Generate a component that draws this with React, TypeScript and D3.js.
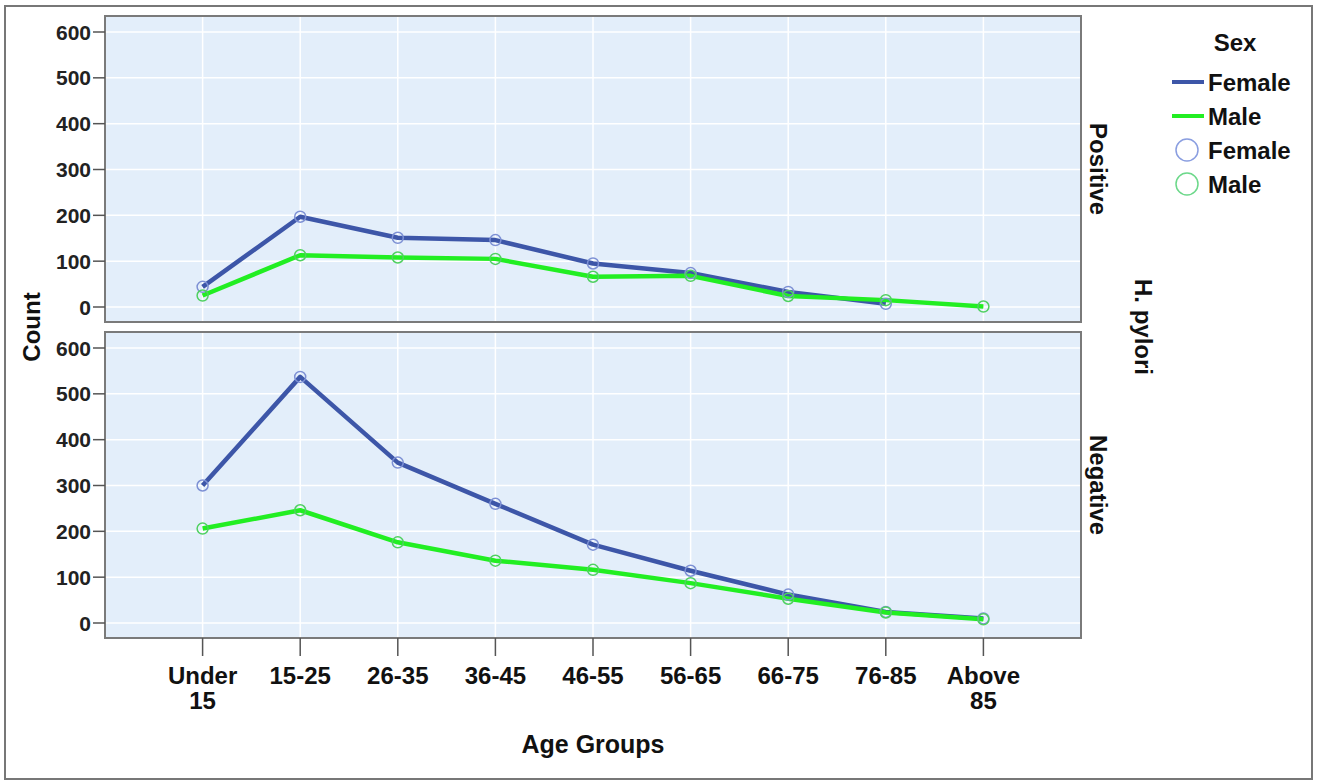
import React from "react";
import * as d3 from "d3";

const ageGroups = ["Under 15", "15-25", "26-35", "36-45", "46-55", "56-65", "66-75", "76-85", "Above 85"];
const ageLabelLines = [["Under", "15"], ["15-25"], ["26-35"], ["36-45"], ["46-55"], ["56-65"], ["66-75"], ["76-85"], ["Above", "85"]];
const positiveFemale: (number | null)[] = [44, 197, 151, 146, 95, 74, 33, 7, null];
const positiveMale: (number | null)[] = [25, 113, 108, 105, 66, 68, 24, 15, 1];
const negativeFemale: (number | null)[] = [300, 537, 350, 260, 171, 114, 62, 24, 10];
const negativeMale: (number | null)[] = [206, 246, 176, 136, 116, 87, 53, 23, 8];
const yTicks = [0, 100, 200, 300, 400, 500, 600];
const panelNames = ["Positive", "Negative"];
const legendItems = ["Female", "Male"];

const W = 1318, H = 783;
const FONT = "'Liberation Sans', Arial, sans-serif";
const FEMALE = "#3D56A8";
const MALE = "#22EE22";
const FEMALE_MK = "#7D90D4";
const MALE_MK = "#4FD060";
const PANEL_BG = "#E3EEFA";

const panelLeft = 105, panelRight = 1081;
const panels = [
  { top: 16, bottom: 322, y0: 307, y600: 32 },
  { top: 332, bottom: 638, y0: 623, y600: 348 },
];

export default function App() {
  const x = d3.scalePoint<string>().domain(ageGroups).range([panelLeft, panelRight]).padding(1);
  const series = [
    [positiveFemale, positiveMale],
    [negativeFemale, negativeMale],
  ];
  return (
    <svg width={W} height={H} style={{ position: "absolute", left: 0, top: 0, background: "#fff" }} fontFamily={FONT}>
      <rect x={5} y={6} width={1307} height={773} fill="#fff" stroke="#777" strokeWidth={2} />
      {panels.map((p, pi) => {
        const y = d3.scaleLinear().domain([0, 600]).range([p.y0, p.y600]);
        const line = d3.line<number | null>()
          .defined((d) => d !== null)
          .x((_, i) => x(ageGroups[i]) as number)
          .y((d) => y(d as number));
        const [fem, mal] = series[pi];
        return (
          <g key={pi}>
            <rect x={panelLeft} y={p.top} width={panelRight - panelLeft} height={p.bottom - p.top} fill={PANEL_BG} />
            {yTicks.map((t) => (
              <line key={"h" + t} x1={panelLeft} x2={panelRight} y1={y(t)} y2={y(t)} stroke="#fff" strokeWidth={1.5} />
            ))}
            {ageGroups.map((g) => (
              <line key={"v" + g} x1={x(g)} x2={x(g)} y1={p.top} y2={p.bottom} stroke="#fff" strokeWidth={1.5} />
            ))}
            <rect x={panelLeft} y={p.top} width={panelRight - panelLeft} height={p.bottom - p.top} fill="none" stroke="#7a7a7a" strokeWidth={2} />
            {yTicks.map((t) => (
              <g key={"t" + t}>
                <line x1={panelLeft - 12} x2={panelLeft} y1={y(t)} y2={y(t)} stroke="#555" strokeWidth={1.5} />
                <text x={panelLeft - 14} y={y(t)} dy="0.36em" textAnchor="end" fontSize={21} fontWeight="bold" fill="#222">{t}</text>
              </g>
            ))}
            <path d={line(fem) || ""} fill="none" stroke={FEMALE} strokeWidth={4.5} strokeLinejoin="round" />
            <path d={line(mal) || ""} fill="none" stroke={MALE} strokeWidth={4.5} strokeLinejoin="round" />
            {fem.map((v, i) => v === null ? null : (
              <circle key={"fc" + i} cx={x(ageGroups[i])} cy={y(v)} r={5.5} fill="none" stroke={FEMALE_MK} strokeWidth={1.5} />
            ))}
            {mal.map((v, i) => v === null ? null : (
              <circle key={"mc" + i} cx={x(ageGroups[i])} cy={y(v)} r={5.5} fill="none" stroke={MALE_MK} strokeWidth={1.5} />
            ))}
            <text transform={`translate(1090,${(p.top + p.bottom) / 2}) rotate(90)`} textAnchor="middle" fontSize={24} fontWeight="bold" fill="#111">{panelNames[pi]}</text>
          </g>
        );
      })}
      {ageGroups.map((g, i) => (
        <g key={"xl" + g}>
          <line x1={x(g)} x2={x(g)} y1={638} y2={656} stroke="#555" strokeWidth={1.5} />
          {ageLabelLines[i].map((s, k) => (
            <text key={k} x={x(g)} y={684 + k * 25} textAnchor="middle" fontSize={24} fontWeight="bold" fill="#111">{s}</text>
          ))}
        </g>
      ))}
      <text x={(panelLeft + panelRight) / 2} y={753} textAnchor="middle" fontSize={25} fontWeight="bold" fill="#111">Age Groups</text>
      <text transform={`translate(40,327) rotate(-90)`} textAnchor="middle" fontSize={24} fontWeight="bold" fill="#111">Count</text>
      <text transform={`translate(1135,327) rotate(90)`} textAnchor="middle" fontSize={24} fontWeight="bold" fill="#111">H. pylori</text>
      <text x={1235} y={51} textAnchor="middle" fontSize={24} fontWeight="bold" fill="#111">Sex</text>
      {legendItems.map((s, i) => (
        <g key={"ll" + s}>
          <line x1={1172} x2={1204} y1={82 + i * 34} y2={82 + i * 34} stroke={i === 0 ? FEMALE : MALE} strokeWidth={4} />
          <text x={1208} y={82 + i * 34} dy="0.36em" fontSize={24} fontWeight="bold" fill="#111">{s}</text>
        </g>
      ))}
      {legendItems.map((s, i) => (
        <g key={"lc" + s}>
          <circle cx={1187} cy={150 + i * 34} r={11} fill="none" stroke={i === 0 ? "#8A9EE0" : "#6CD88A"} strokeWidth={1.5} />
          <text x={1208} y={150 + i * 34} dy="0.36em" fontSize={24} fontWeight="bold" fill="#111">{s}</text>
        </g>
      ))}
    </svg>
  );
}
